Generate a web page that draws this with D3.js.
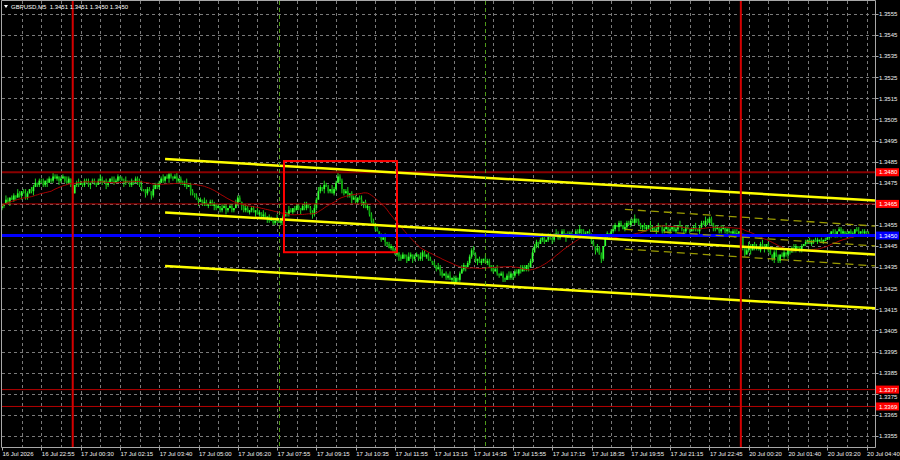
<!DOCTYPE html>
<html>
<head>
<meta charset="utf-8">
<script src="https://cdn.jsdelivr.net/npm/d3@7"></script>
<style>
  html, body { margin: 0; padding: 0; background: #000; }
  svg { display: block; }
  text { font-family: "Liberation Sans", Arial, sans-serif; }
</style>
</head>
<body>
<svg id="chart" width="900" height="460"></svg>
<script>
// ---------------- DATA ----------------
const symbolTitle = "GBPUSD,M5  1.3451 1.3451 1.3450 1.3450";

// M5 closing prices, one per bar (442 bars)
const closes = [
1.3464,1.3465,1.3467,1.3466,1.3468,1.3467,1.3469,1.3468,1.3470,1.3469,
1.3471,1.3470,1.3468,1.3470,1.3472,1.3471,1.3473,1.3475,1.3474,1.3476,
1.3475,1.3474,1.3476,1.3475,1.3477,1.3476,1.3478,1.3477,1.3478,1.3476,
1.3477,1.3478,1.3476,1.3475,1.3477,1.3474,1.3470,1.3474,1.3475,1.3474,
1.3475,1.3474,1.3476,1.3475,1.3474,1.3475,1.3476,1.3475,1.3474,1.3476,
1.3477,1.3475,1.3476,1.3474,1.3475,1.3477,1.3476,1.3475,1.3476,1.3478,
1.3477,1.3476,1.3475,1.3476,1.3475,1.3474,1.3476,1.3475,1.3477,1.3476,
1.3474,1.3472,1.3471,1.3470,1.3472,1.3471,1.3469,1.3472,1.3474,1.3473,
1.3475,1.3477,1.3476,1.3478,1.3477,1.3479,1.3478,1.3477,1.3478,1.3476,
1.3477,1.3475,1.3474,1.3475,1.3473,1.3474,1.3471,1.3470,1.3469,1.3467,
1.3466,1.3467,1.3465,1.3466,1.3464,1.3465,1.3466,1.3464,1.3465,1.3463,
1.3464,1.3462,1.3463,1.3464,1.3462,1.3463,1.3464,1.3462,1.3463,1.3465,
1.3468,1.3466,1.3464,1.3462,1.3463,1.3461,1.3462,1.3463,1.3461,1.3462,
1.3460,1.3461,1.3459,1.3460,1.3458,1.3459,1.3457,1.3458,1.3456,1.3457,
1.3458,1.3456,1.3457,1.3459,1.3461,1.3460,1.3462,1.3461,1.3463,1.3462,
1.3464,1.3463,1.3462,1.3464,1.3463,1.3465,1.3463,1.3461,1.3460,1.3463,
1.3467,1.3471,1.3473,1.3472,1.3474,1.3473,1.3471,1.3472,1.3470,1.3472,
1.3475,1.3478,1.3476,1.3472,1.3470,1.3471,1.3469,1.3470,1.3467,1.3468,
1.3466,1.3468,1.3467,1.3465,1.3466,1.3463,1.3464,1.3460,1.3457,1.3455,
1.3453,1.3452,1.3450,1.3448,1.3449,1.3447,1.3446,1.3444,1.3445,1.3443,
1.3441,1.3442,1.3440,1.3439,1.3441,1.3440,1.3438,1.3440,1.3441,1.3439,
1.3440,1.3441,1.3439,1.3440,1.3442,1.3440,1.3441,1.3439,1.3438,1.3437,
1.3436,1.3434,1.3435,1.3433,1.3431,1.3432,1.3430,1.3431,1.3429,1.3430,
1.3428,1.3430,1.3429,1.3432,1.3434,1.3436,1.3435,1.3437,1.3440,1.3443,
1.3441,1.3438,1.3439,1.3437,1.3438,1.3439,1.3437,1.3438,1.3436,1.3435,
1.3433,1.3434,1.3432,1.3431,1.3432,1.3430,1.3429,1.3431,1.3430,1.3432,
1.3431,1.3433,1.3432,1.3434,1.3433,1.3435,1.3434,1.3436,1.3435,1.3438,
1.3442,1.3445,1.3447,1.3446,1.3448,1.3449,1.3447,1.3448,1.3450,1.3449,
1.3448,1.3450,1.3451,1.3449,1.3450,1.3452,1.3451,1.3449,1.3450,1.3451,
1.3449,1.3450,1.3452,1.3451,1.3453,1.3452,1.3450,1.3451,1.3452,1.3450,
1.3447,1.3445,1.3443,1.3444,1.3441,1.3439,1.3445,1.3449,1.3451,1.3450,
1.3452,1.3453,1.3455,1.3454,1.3456,1.3455,1.3453,1.3454,1.3456,1.3455,
1.3457,1.3456,1.3458,1.3457,1.3455,1.3454,1.3455,1.3453,1.3454,1.3455,
1.3453,1.3454,1.3452,1.3453,1.3455,1.3454,1.3452,1.3453,1.3454,1.3452,
1.3453,1.3454,1.3452,1.3453,1.3455,1.3454,1.3453,1.3452,1.3454,1.3453,
1.3452,1.3453,1.3454,1.3453,1.3452,1.3454,1.3456,1.3455,1.3457,1.3456,
1.3458,1.3456,1.3454,1.3453,1.3454,1.3452,1.3453,1.3454,1.3452,1.3453,
1.3452,1.3451,1.3452,1.3450,1.3451,1.3452,1.3450,1.3444,1.3441,1.3443,
1.3445,1.3443,1.3446,1.3444,1.3445,1.3443,1.3446,1.3445,1.3444,1.3446,
1.3443,1.3441,1.3439,1.3442,1.3440,1.3438,1.3441,1.3440,1.3442,1.3441,
1.3443,1.3442,1.3444,1.3443,1.3445,1.3444,1.3443,1.3445,1.3446,1.3447,
1.3448,1.3446,1.3447,1.3448,1.3447,1.3448,1.3448,1.3447,1.3448,1.3448,
1.3449,1.3450,1.3452,1.3451,1.3450,1.3452,1.3453,1.3451,1.3452,1.3450,
1.3451,1.3452,1.3450,1.3451,1.3453,1.3452,1.3451,1.3452,1.3451,1.3452,
1.3451,1.3450
];

// upper / lower wick length of each bar, in pips beyond the body
const wickHi = [
1,0,2,1,0,1,1,0,2,1, 0,1,2,1,0,1,1,2,0,1, 1,2,0,1,1,0,2,1,1,0, 1,1,0,2,1,0,1,0,1,2,
1,0,1,1,2,0,1,1,0,1, 2,1,0,1,1,0,1,2,1,1, 0,1,1,2,0,1,1,0,1,1, 1,2,0,1,1,1,0,2,1,1,
1,1,2,0,1,1,1,0,1,2, 0,1,1,1,2,0,1,1,0,1, 1,1,0,2,1,0,1,1,1,0, 1,0,2,1,1,0,1,1,0,2,
1,1,0,1,2,1,0,1,1,0, 1,1,0,2,1,0,1,1,0,1, 2,0,1,1,1,0,2,1,0,1, 1,1,0,1,2,1,0,1,1,2,
1,2,1,0,2,1,1,0,2,1, 1,2,1,1,0,1,2,0,1,1, 1,0,1,2,0,1,1,0,1,1, 1,1,0,1,1,2,0,1,1,0,
1,2,0,1,1,0,1,2,1,0, 1,1,0,2,1,1,0,1,1,0, 1,0,2,1,1,0,1,1,2,0, 1,1,0,1,2,1,0,1,1,1,
2,1,0,1,1,0,2,1,1,0, 1,1,2,0,1,1,0,1,2,1, 0,1,1,0,2,1,1,0,1,1, 2,1,1,0,1,2,1,0,1,1,
0,1,2,1,0,1,1,0,2,1, 1,0,1,1,2,0,1,1,0,1, 1,1,0,2,1,1,0,1,1,0, 1,2,1,0,1,1,0,2,1,1,
1,1,2,0,1,1,0,1,1,0, 2,1,0,1,1,0,1,1,2,0, 1,0,1,1,0,2,1,0,1,1, 0,1,1,2,0,1,1,1,2,1,
1,1,0,1,1,0,2,1,0,1, 1,0,1,1,2,0,1,1,0,1, 2,1,0,1,1,0,1,2,1,0, 1,1,0,1,2,1,0,1,1,0,
1,0,1,2,1,0,1,1,0,1, 0,1,1,0,1,1,0,1,0,1, 1,1,0,1,2,0,1,1,1,0, 1,0,1,1,0,1,2,0,1,1,
0,1
];
const wickLo = [
1,1,0,1,2,0,1,1,0,1, 2,0,1,1,0,1,2,0,1,1, 0,1,1,2,0,1,1,0,1,2, 1,0,1,1,0,1,3,0,1,1,
0,1,1,0,1,2,0,1,1,0, 1,1,0,2,1,0,1,1,0,1, 1,0,2,1,0,1,1,1,0,2, 1,1,0,2,1,0,2,1,0,1,
1,0,1,1,0,2,1,1,0,1, 1,1,0,1,1,0,2,1,1,0, 2,0,1,1,0,1,1,0,2,1, 0,1,1,0,2,1,0,1,1,0,
1,0,2,1,1,0,1,1,0,2, 0,1,1,1,0,2,1,0,1,1, 1,0,1,2,0,1,1,0,1,1, 0,1,2,0,1,1,0,1,2,1,
1,0,1,1,2,0,1,1,0,1, 1,0,1,2,1,0,1,1,2,0, 1,1,0,1,2,0,1,1,1,0, 1,0,1,1,0,2,1,0,1,1,
0,1,2,1,0,1,1,0,1,2, 1,0,1,1,2,0,1,1,0,1, 1,1,0,2,1,0,1,1,0,1, 1,0,1,1,0,1,2,0,1,1,
0,1,2,0,1,1,0,1,1,2, 1,0,1,1,0,2,1,0,1,1, 2,1,0,1,1,0,1,1,2,0, 1,0,1,2,0,1,1,0,1,1,
2,1,0,1,1,0,1,2,0,1, 1,1,0,1,0,2,1,1,0,1, 1,0,2,1,0,2,1,0,1,1, 0,1,1,0,2,1,0,1,1,0,
1,0,1,1,0,1,2,0,1,1, 1,1,0,2,1,0,1,1,0,1, 2,1,0,1,1,0,1,2,1,0, 1,0,1,1,0,2,1,0,1,1,
0,1,2,1,0,1,1,0,1,2, 1,0,1,1,0,1,2,1,1,0, 1,2,0,1,1,0,1,1,2,0, 1,0,1,2,0,1,1,0,1,1,
2,1,0,1,1,0,1,1,0,1, 1,0,1,1,0,1,1,0,1,0, 0,1,1,0,1,1,0,2,1,0, 1,1,0,1,1,0,1,1,0,1,
1,0
];

// time-axis labels, one every 20 bars
const timeLabels = [
"16 Jul 2026","16 Jul 22:55","17 Jul 00:30","17 Jul 02:15","17 Jul 03:40",
"17 Jul 05:00","17 Jul 06:20","17 Jul 07:55","17 Jul 09:15","17 Jul 10:35",
"17 Jul 11:55","17 Jul 13:15","17 Jul 14:35","17 Jul 15:55","17 Jul 17:15",
"17 Jul 18:35","17 Jul 19:55","17 Jul 21:15","17 Jul 22:45","20 Jul 00:20",
"20 Jul 01:40","20 Jul 03:20","20 Jul 04:40"
];
const timeLabelStep = 20;

// price-axis tick values
const priceTicks = [1.3355,1.3365,1.3375,1.3385,1.3395,1.3405,1.3415,1.3425,1.3435,
  1.3445,1.3455,1.3465,1.3475,1.3485,1.3495,1.3505,1.3515,1.3525,1.3535,1.3545,1.3555];

// horizontal levels
const levelPrices  = [1.3480, 1.3465, 1.3377, 1.3369];
const bluePrice    = 1.3450;

// vertical lines (bar indices)
const redVBars   = [36, 376];
const greenVBars = [141, 246];

// main trend channel: [barStart, priceStart, barEnd, priceEnd]
const channelLines = [
  [83, 1.34863, 444.3, 1.34666],
  [83, 1.34609, 444.3, 1.34410],
  [83, 1.34356, 444.3, 1.34155]
];
// short regression channel (dashed)
const regLines = [
  [317, 1.34624, 444.3, 1.34545],
  [317, 1.34529, 444.3, 1.34451],
  [317, 1.34436, 444.3, 1.34356]
];
// highlighted box: [barStart, priceTop, barEnd, priceBottom]
const boxArea = [143.5, 1.34853, 201.0, 1.34421];

const maPeriod = 26;

// ---------------- DRAW ----------------
const svg = d3.select("#chart");
const W = 900, H = 460;
const plotL = 2, plotR = 875, plotT = 1, plotB = 447;
const barStep = 1.965;
const pip = 0.0001;

const x = d3.scaleLinear().domain([0, 441]).range([plotL, plotL + 441 * barStep]);
const y = d3.scaleLinear().domain([1.3355, 1.3555]).range([436, 14]);

svg.append("rect").attr("width", W).attr("height", H).attr("fill", "#000");

svg.append("defs").append("clipPath").attr("id", "plotclip")
  .append("rect").attr("x", plotL).attr("y", plotT).attr("width", plotR - plotL).attr("height", plotB - plotT);

const plot = svg.append("g").attr("clip-path", "url(#plotclip)");

// grid
const gridColor = "#7a7a7a";
plot.append("g").selectAll("line").data(priceTicks).join("line")
  .attr("x1", plotL).attr("x2", plotR)
  .attr("y1", d => Math.round(y(d)) + 0.5).attr("y2", d => Math.round(y(d)) + 0.5)
  .attr("stroke", gridColor).attr("stroke-width", 1).attr("stroke-dasharray", "3,3");
const vGrid = d3.range(10, 442, 10);
plot.append("g").selectAll("line").data(vGrid).join("line")
  .attr("x1", d => Math.round(x(d)) + 0.5).attr("x2", d => Math.round(x(d)) + 0.5)
  .attr("y1", plotT).attr("y2", plotB)
  .attr("stroke", gridColor).attr("stroke-width", 1).attr("stroke-dasharray", "3,3");

// candles (open = previous close)
const bars = closes.map((c, i) => {
  const o = i === 0 ? c - pip : closes[i - 1];
  return { i, o, c, h: Math.max(o, c) + wickHi[i] * pip, l: Math.min(o, c) - wickLo[i] * pip };
});
const cg = plot.append("g");
cg.selectAll("line").data(bars).join("line")
  .attr("x1", d => x(d.i)).attr("x2", d => x(d.i))
  .attr("y1", d => y(d.h)).attr("y2", d => y(d.l))
  .attr("stroke", "#22ee22").attr("stroke-width", 0.9);
cg.selectAll("rect").data(bars).join("rect")
  .attr("x", d => x(d.i) - 0.85)
  .attr("width", 1.7)
  .attr("y", d => y(Math.max(d.o, d.c)))
  .attr("height", d => Math.max(1.2, Math.abs(y(d.o) - y(d.c))))
  .attr("fill", d => d.c >= d.o ? "#33ff33" : "#0ea80e");

// moving average (computed from closes)
const ma = closes.map((c, i) => {
  const s = closes.slice(Math.max(0, i - maPeriod + 1), i + 1);
  return { i, v: d3.mean(s) };
});
plot.append("path").datum(ma)
  .attr("d", d3.line().x(d => x(d.i)).y(d => y(d.v)))
  .attr("fill", "none").attr("stroke", "#a80000").attr("stroke-width", 1);

// horizontal levels
plot.append("g").selectAll("line").data(levelPrices).join("line")
  .attr("x1", plotL).attr("x2", plotR)
  .attr("y1", d => y(d)).attr("y2", d => y(d))
  .attr("stroke", (d, i) => i === 0 ? "#8a0000" : "#b40000")
  .attr("stroke-width", (d, i) => i === 0 ? 2 : 1);
plot.append("line")
  .attr("x1", plotL).attr("x2", plotR)
  .attr("y1", y(bluePrice)).attr("y2", y(bluePrice))
  .attr("stroke", "#0000ff").attr("stroke-width", 3);

// trend channel
plot.append("g").selectAll("line").data(channelLines).join("line")
  .attr("x1", d => x(d[0])).attr("y1", d => y(d[1]))
  .attr("x2", d => x(d[2])).attr("y2", d => y(d[3]))
  .attr("stroke", "#ffff00").attr("stroke-width", 2.5);

// regression channel
plot.append("g").selectAll("line").data(regLines).join("line")
  .attr("x1", d => x(d[0])).attr("y1", d => y(d[1]))
  .attr("x2", d => x(d[2])).attr("y2", d => y(d[3]))
  .attr("stroke", "#9a9a00").attr("stroke-width", 1.3).attr("stroke-dasharray", "8,5");

// box
plot.append("rect")
  .attr("x", x(boxArea[0])).attr("y", y(boxArea[1]))
  .attr("width", x(boxArea[2]) - x(boxArea[0])).attr("height", y(boxArea[3]) - y(boxArea[1]))
  .attr("fill", "none").attr("stroke", "#ff0000").attr("stroke-width", 2);

// vertical lines
plot.append("g").selectAll("line").data(redVBars).join("line")
  .attr("x1", d => x(d)).attr("x2", d => x(d)).attr("y1", plotT).attr("y2", plotB)
  .attr("stroke", "#d40000").attr("stroke-width", 2);
plot.append("g").selectAll("line").data(greenVBars).join("line")
  .attr("x1", d => Math.round(x(d)) + 0.5).attr("x2", d => Math.round(x(d)) + 0.5).attr("y1", plotT).attr("y2", plotB)
  .attr("stroke", "#4f9a1a").attr("stroke-width", 1).attr("stroke-dasharray", "4,3");

// frame
const frameColor = "#a8a8a8";
svg.append("path")
  .attr("d", `M${plotL - 0.5},${plotT - 0.5} H${plotR + 0.5} V${plotB + 0.5} H${plotL - 0.5} Z`)
  .attr("fill", "none").attr("stroke", frameColor).attr("stroke-width", 1);

// price axis
const labelColor = "#f0f0f0";
const boxPrices = levelPrices.concat([bluePrice]);
const nudge = p => {
  // push a tick label just clear of a price box that partly covers it
  const yy = y(p);
  let dy = 0;
  boxPrices.forEach(b => {
    const d = yy - y(b);
    if (Math.abs(d) > 0.5 && Math.abs(d) < 7) dy = d > 0 ? 7 - d : -(7 + d);
  });
  return dy;
};
const pa = svg.append("g");
pa.selectAll("line").data(priceTicks).join("line")
  .attr("x1", plotR + 0.5).attr("x2", plotR + 3.5)
  .attr("y1", d => Math.round(y(d)) + 0.5).attr("y2", d => Math.round(y(d)) + 0.5)
  .attr("stroke", frameColor);
pa.selectAll("text").data(priceTicks).join("text")
  .attr("x", 879).attr("y", d => y(d) + 2.2 + nudge(d))
  .attr("fill", labelColor).attr("font-size", "6px")
  .text(d => d.toFixed(4));

// price boxes
const boxes = levelPrices.map(p => ({ p, c: "#ff0000" })).concat([{ p: bluePrice, c: "#0000ff" }]);
const bg = svg.append("g").selectAll("g").data(boxes).join("g");
bg.append("rect")
  .attr("x", plotR + 1).attr("y", d => y(d.p) - 4).attr("width", 23).attr("height", 8)
  .attr("fill", d => d.c);
bg.append("text")
  .attr("x", 879).attr("y", d => y(d.p) + 2.2)
  .attr("fill", "#ffffff").attr("font-size", "6px")
  .text(d => d.p.toFixed(4));

// time axis
const ta = svg.append("g");
const tdata = timeLabels.map((t, k) => ({ t, i: k * timeLabelStep }));
ta.selectAll("line").data(tdata).join("line")
  .attr("x1", d => Math.round(x(d.i)) + 0.5).attr("x2", d => Math.round(x(d.i)) + 0.5)
  .attr("y1", plotB + 0.5).attr("y2", plotB + 3.5).attr("stroke", frameColor);
ta.selectAll("text").data(tdata).join("text")
  .attr("x", d => x(d.i) + 0.5).attr("y", 456)
  .attr("fill", labelColor).attr("font-size", "6px")
  .text(d => d.t);

// title
svg.append("path").attr("d", "M4,5 L8,5 L6,8 Z").attr("fill", "#ffffff");
svg.append("text").attr("x", 11).attr("y", 8.5)
  .attr("fill", "#ffffff").attr("font-size", "6px")
  .style("white-space", "pre")
  .text(symbolTitle);
</script>
</body>
</html>
